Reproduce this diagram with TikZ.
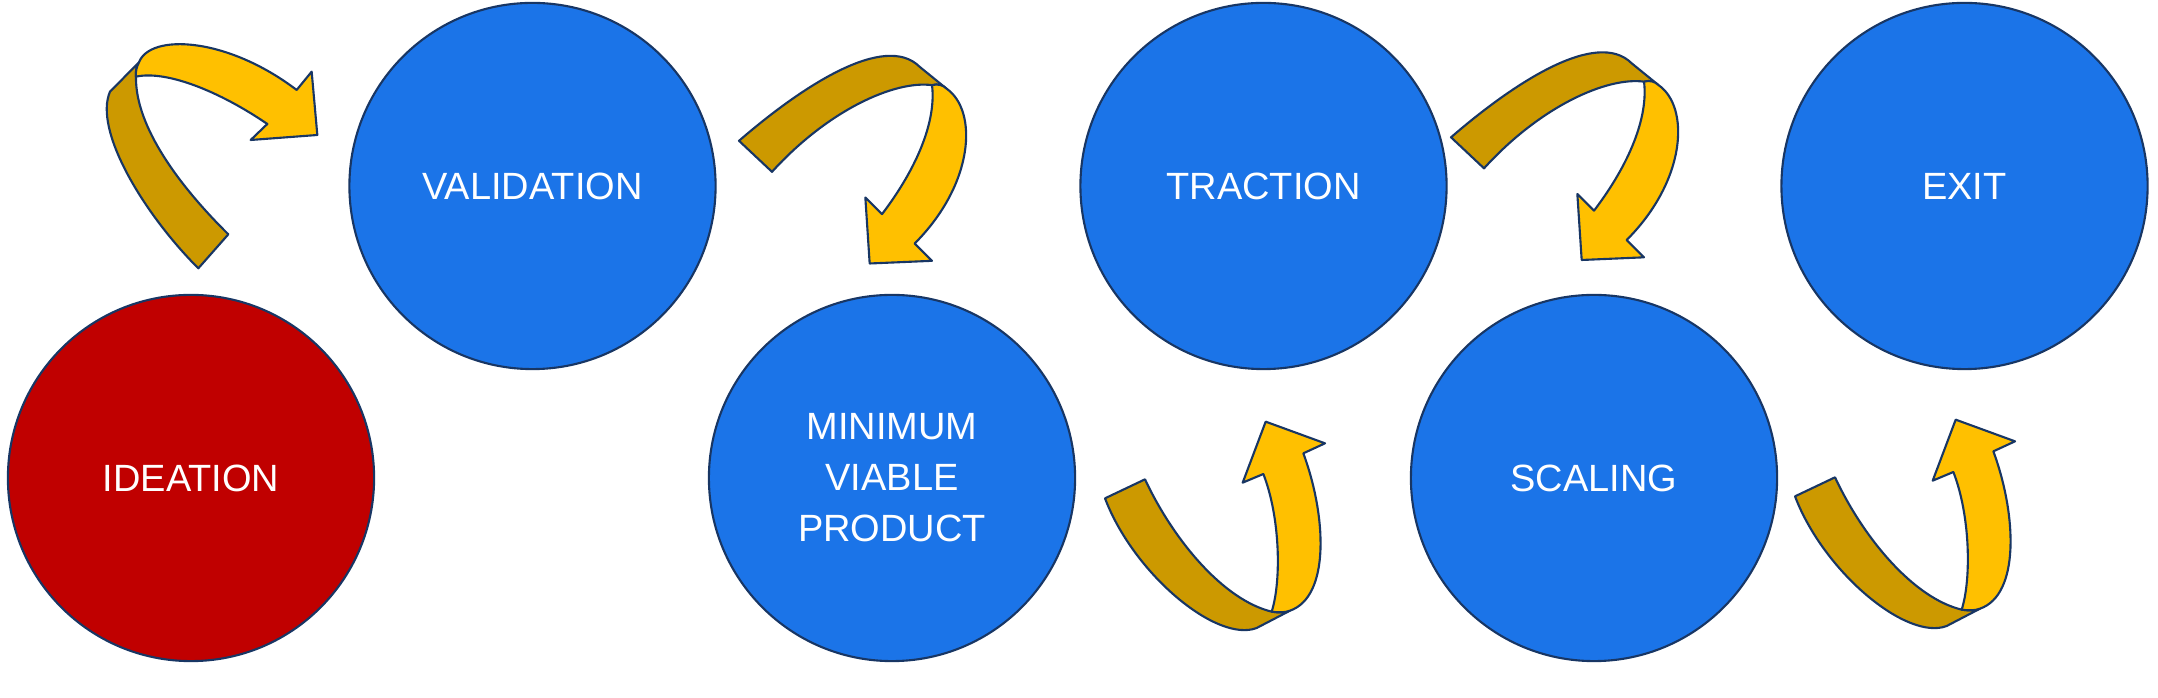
\documentclass[tikz,border=0pt]{standalone}
\usepackage{fontspec}
\setmainfont{Liberation Sans}
\definecolor{stageblue}{RGB}{27,116,232}
\definecolor{stagered}{RGB}{192,0,0}
\definecolor{ribbonback}{RGB}{204,153,0}
\definecolor{ribbonfront}{RGB}{255,192,0}
\definecolor{edgenavy}{RGB}{24,54,100}
\tikzset{
  stage/.style={circle, draw=edgenavy, line width=0.6pt, minimum size=3.66cm,
    inner sep=0pt, text=white, font=\fontsize{10.8}{14.5}\selectfont, align=center},
  ribbon/.style={draw=edgenavy, line width=0.6pt, line join=round},
  backpart/.style={ribbon, fill=ribbonback},
  frontpart/.style={ribbon, fill=ribbonfront},
  ribbonright/.pic={
    \begin{scope}[scale=1/3]
      \path[backpart] (415,745) .. controls (250,580) and (100,330) .. (150,215)
        -- (237,127) .. controls (230,140) and (226,155) .. (228,170)
        .. controls (225,320) and (360,500) .. (505,643) -- cycle;
      \path[frontpart] (228,170) .. controls (226,155) and (230,140) .. (237,127)
        .. controls (270,40) and (500,50) .. (710,210) -- (755,155) -- (772,345)
        -- (572,360) -- (622,312) .. controls (480,215) and (320,150) .. (228,170) -- cycle;
    \end{scope}
  },
  ribbondown/.pic={
    \begin{scope}[scale=1/3]
      \path[backpart] (33,292) .. controls (220,130) and (470,-35) .. (575,70)
        -- (655,135) .. controls (645,125) and (630,120) .. (612,125)
        .. controls (500,110) and (300,200) .. (132,385) -- cycle;
      \path[frontpart] (612,125) .. controls (630,120) and (645,125) .. (655,135)
        .. controls (750,200) and (740,420) .. (560,600) -- (612,652) -- (425,660)
        -- (412,462) -- (462,512) .. controls (570,370) and (625,230) .. (612,125) -- cycle;
    \end{scope}
  },
  ribbonup/.pic={
    \begin{scope}[scale=1/3]
      \path[backpart] (45,295) .. controls (130,520) and (380,730) .. (500,684)
        -- (600,632) .. controls (585,638) and (565,638) .. (545,635)
        .. controls (400,600) and (250,420) .. (165,238) -- cycle;
      \path[frontpart] (545,635) .. controls (575,540) and (570,350) .. (520,222)
        -- (458,248) -- (527,65) -- (705,130) -- (640,160)
        .. controls (710,350) and (720,590) .. (600,632)
        .. controls (585,638) and (565,638) .. (545,635) -- cycle;
    \end{scope}
  }
}
\begin{document}
\begin{tikzpicture}[x=0.01cm,y=-0.01cm]
\useasboundingbox (0,0) rectangle (2158,698);
\node[stage, fill=stagered]  (ideation)   at (191,478)    {IDEATION};
\node[stage, fill=stageblue] (validation) at (532.5,186)  {VALIDATION};
\node[stage, fill=stageblue] (mvp)        at (892,478)    {MINIMUM\\VIABLE\\PRODUCT};
\node[stage, fill=stageblue] (traction)   at (1263.5,186) {TRACTION};
\node[stage, fill=stageblue] (scaling)    at (1594,478)   {SCALING};
\node[stage, fill=stageblue] (exit)       at (1964.5,186) {EXIT};
\pic at (60,20)    {ribbonright};
\pic at (728,43.5) {ribbondown};
\pic at (1440,40)  {ribbondown};
\pic at (1090,400) {ribbonup};
\pic at (1780,398) {ribbonup};
\end{tikzpicture}
\end{document}
